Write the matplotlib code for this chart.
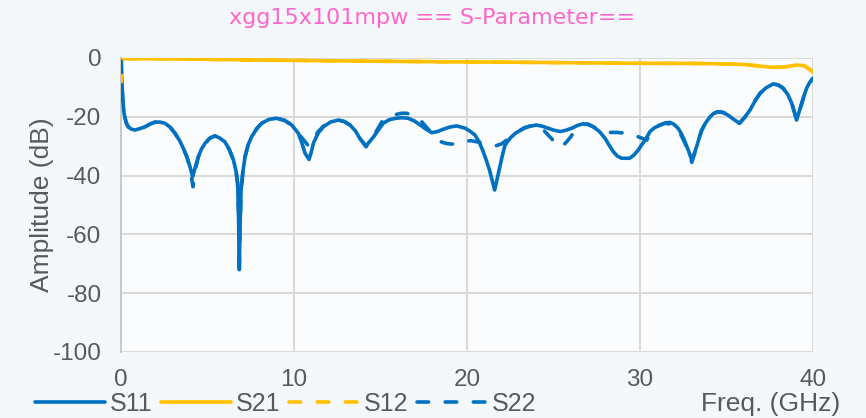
import matplotlib
matplotlib.use("Agg")
import matplotlib.pyplot as plt

# S11 input return loss (GHz, dB)
s11_f = [0.0, 0.05, 0.1, 0.18, 0.3, 0.42, 0.6, 0.81, 1.1, 1.39, 1.7, 1.97, 2.25, 2.54, 2.85,
         3.12, 3.4, 3.6, 3.8, 3.99, 4.14, 4.3, 4.47, 4.65, 4.86, 5.15, 5.43, 5.7, 6.0, 6.25,
         6.5, 6.65, 6.74, 6.79, 6.84, 6.89, 6.94, 7.05, 7.17, 7.35, 7.55, 7.85, 8.13, 8.55,
         9.0, 9.45, 9.87, 10.1, 10.25, 10.45, 10.64, 10.87, 11.0, 11.12, 11.4, 11.7, 12.1,
         12.56, 12.9, 13.24, 13.55, 13.8, 14.16, 14.35, 14.6, 14.9, 15.16, 15.5, 15.9, 16.25,
         16.6, 16.95, 17.3, 17.65, 17.96, 18.3, 18.6, 19.0, 19.4, 19.9, 20.2, 20.46, 20.7,
         20.9, 21.1, 21.3, 21.45, 21.6, 21.75, 21.9, 22.05, 22.2, 22.5, 22.8, 23.35, 24.0,
         24.35, 24.7, 25.05, 25.4, 25.7, 26.05, 26.4, 26.7, 27.0, 27.3, 27.65, 27.98, 28.2,
         28.46, 28.7, 28.94, 29.4, 29.65, 29.9, 30.1, 30.3, 30.58, 30.85, 31.16, 31.45, 31.73,
         31.95, 32.2, 32.4, 32.6, 32.8, 32.99, 33.13, 33.27, 33.42, 33.57, 33.8, 34.05, 34.25,
         34.5, 34.8, 35.08, 35.4, 35.75, 36.05, 36.36, 36.65, 36.94, 37.3, 37.7, 38.0, 38.28,
         38.55, 38.77, 38.92, 39.05, 39.2, 39.35, 39.5, 39.63, 39.8, 40.0]
s11_db = [-1, -8, -14, -19, -22, -23.4, -24.2, -24.5, -24, -23.4, -22.4, -21.8, -21.8, -22.2, -23.6,
          -25.6, -28.2, -30.7, -33.5, -37, -40.4, -37, -33.6, -31, -29, -27.2, -26.5, -27.2, -28.5, -31,
          -34.7, -38.5, -42.6, -52, -72, -55, -44.9, -38.5, -33.6, -29.5, -26.8, -24, -22.2, -20.9,
          -20.5, -21.2, -22.8, -24.5, -25.6, -28.8, -32.4, -34.5, -32, -29, -25.5, -23.4, -21.8,
          -21.1, -21.6, -22.8, -24.8, -27.3, -29.9, -28.6, -26.8, -24.3, -22.2, -21, -20.5, -20.3,
          -20.5, -21.4, -22.8, -24.3, -25.4, -25, -24.3, -23.5, -23.1, -23.9, -25, -26.2, -28.5,
          -31.3, -34.5, -38.1, -41.5, -44.9, -41, -37, -33, -29.6, -27.2, -25.6, -23.6, -22.8,
          -23.2, -23.9, -24.6, -25, -24.6, -23.9, -22.9, -22.4, -22.6, -23.4, -25, -27.3, -29.5,
          -31.9, -33.4, -34.1, -34.1, -33, -31.3, -29.5, -27.9, -25, -23.7, -22.8, -22.1, -21.9,
          -22.5, -23.9, -25.8, -28.5, -31.5, -34.7, -32.6, -30.2, -27.2, -24.5, -22, -20, -18.9,
          -18.3, -18.5, -19.4, -20.8, -22.2, -20.2, -17.7, -14.6, -12, -10.1, -8.8, -9.2, -10.3,
          -12.5, -15.4, -18.3, -21.1, -18.3, -15.4, -12.5, -10.3, -8.4, -6.9]

# S22 output return loss (GHz, dB)
s22_f = [0.0, 0.05, 0.1, 0.18, 0.3, 0.42, 0.6, 0.81, 1.1, 1.39, 1.7, 1.97, 2.25, 2.54, 2.85,
         3.12, 3.4, 3.6, 3.8, 3.99, 4.16, 4.32, 4.47, 4.65, 4.86, 5.15, 5.43, 5.7, 6.0, 6.25,
         6.5, 6.65, 6.74, 6.79, 6.84, 6.89, 6.94, 7.05, 7.17, 7.35, 7.55, 7.85, 8.13, 8.55,
         9.0, 9.45, 9.87, 10.1, 10.3, 10.6, 10.85, 11.1, 11.4, 11.7, 12.1, 12.56, 12.9,
         13.24, 13.55, 13.8, 14.16, 14.35, 14.6, 14.9, 15.1, 15.5, 15.9, 16.2, 16.5, 16.8,
         17.1, 17.4, 17.8, 18.1, 18.4, 18.75, 19.1, 19.45, 19.8, 20.2, 20.65, 21.1, 21.4,
         21.7, 22.0, 22.3, 22.7, 23.2, 23.6, 24.0, 24.25, 24.5, 24.9, 25.3, 25.55, 25.76,
         26.0, 26.2, 26.7, 27.0, 27.3, 27.65, 27.98, 28.3, 28.65, 29.2, 29.6, 29.9, 30.15,
         30.4, 30.58, 30.85, 31.16, 31.45, 31.73, 31.95, 32.2, 32.4, 32.6, 32.8, 32.99, 33.13,
         33.27, 33.42, 33.57, 33.8, 34.05, 34.25, 34.5, 34.8, 35.08, 35.4, 35.75, 36.05, 36.36,
         36.65, 36.94, 37.3, 37.7, 38.0, 38.28, 38.55, 38.77, 38.92, 39.05, 39.2, 39.35, 39.5,
         39.63, 39.8, 40.0]
s22_db = [-1, -8, -14, -19, -22, -23.4, -24.2, -24.5, -24, -23.4, -22.4, -21.8, -21.8, -22.2, -23.6,
          -25.6, -28.2, -30.7, -33.5, -37.5, -43.8, -37.5, -33.6, -31, -29, -27.2, -26.5, -27.2, -28.5, -31,
          -34.7, -38.5, -42.6, -52, -70, -55, -44.9, -38.5, -33.6, -29.5, -26.8, -24, -22.2, -20.9,
          -20.5, -21.2, -22.8, -24.3, -26, -28.2, -30, -28, -25, -23.2, -21.8, -21.1, -21.6,
          -22.8, -24.8, -27.3, -30.2, -28.6, -26.5, -23.5, -21.5, -20, -19.2, -18.8, -18.8, -19.2,
          -20.2, -21.8, -24.5, -26.8, -28.3, -29, -29.3, -29, -28.5, -28.1, -28.6, -29.4, -29.7,
          -29.8, -29.2, -27.9, -26, -24.2, -23.2, -22.8, -23.2, -25, -27.5, -30.2, -29.8, -28.5,
          -26.8, -25, -22.6, -22.5, -23.4, -24.5, -25.4, -25.3, -25.3, -25.6, -26.2, -26.8, -27.4,
          -27.9, -25, -23.7, -22.8, -22.2, -22.5, -23.2, -24.8, -26.5, -29, -32, -35.5, -33,
          -30.2, -27.2, -24.5, -22, -20, -18.9, -18.3, -18.5, -19.4, -20.8, -22.2, -20.2, -17.7,
          -14.6, -12, -10.1, -8.8, -9.2, -10.3, -12.5, -15.4, -18.3, -21.1, -18.3, -15.4, -12.5,
          -10.3, -8.4, -6.9]

# Forward / reverse transmission (GHz, dB)
s21_f = [0.0, 0.08, 2.0, 5.0, 8.0, 10.0, 12.0, 15.0, 18.0, 20.0, 22.0, 25.0, 28.0, 30.0,
         33.0, 35.0, 36.0, 37.0, 37.7, 38.3, 39.05, 39.5, 40.0]
s21_db = [-8, -0.2, -0.25, -0.45, -0.7, -0.8, -0.95, -1.1, -1.25, -1.35, -1.4, -1.55, -1.7, -1.8,
          -1.85, -2.0, -2.2, -2.8, -3.2, -3.1, -2.4, -2.6, -4.7]
s12_f = [0.0, 0.08, 2.0, 5.0, 8.0, 10.0, 12.0, 15.0, 18.0, 20.0, 22.0, 25.0, 28.0, 30.0,
         33.0, 35.0, 36.0, 37.0, 37.7, 38.3, 39.05, 39.5, 40.0]
s12_db = [-8, -0.2, -0.25, -0.45, -0.7, -0.8, -0.95, -1.1, -1.25, -1.35, -1.4, -1.55, -1.7, -1.8,
          -1.85, -2.0, -2.2, -2.8, -3.2, -3.1, -2.4, -2.6, -4.7]

x_ticks = [0, 10, 20, 30, 40]
y_ticks = [0, -20, -40, -60, -80, -100]

BLUE = "#0070c0"
YELLOW = "#ffc000"
TEXT = "#595959"

plt.rcParams["font.family"] = ["Liberation Sans", "DejaVu Sans"]
plt.rcParams["axes.unicode_minus"] = False

W, H = 866, 418
fig = plt.figure(figsize=(W / 100, H / 100), dpi=100, facecolor="#f5f8fb")
ax = fig.add_axes([121 / W, 1 - 352 / H, (813 - 121) / W, (352 - 58) / H])
ax.set_facecolor("#fbfcfd")

lw = 2.6
dash = (0, (3.2, 4.6))
ax.plot(s11_f, s11_db, color=BLUE, lw=lw, label="S11", solid_capstyle="round",
        solid_joinstyle="round", zorder=3)
ax.plot(s21_f, s21_db, color=YELLOW, lw=lw, label="S21", solid_capstyle="round",
        solid_joinstyle="round", zorder=3)
ax.plot(s12_f, s12_db, color=YELLOW, lw=lw, ls=dash, label="S12",
        dash_capstyle="round", zorder=3)
ax.plot(s22_f, s22_db, color=BLUE, lw=lw, ls=dash, label="S22",
        dash_capstyle="round", zorder=3)

ax.set_xlim(0, 40)
ax.set_ylim(-100, 0)
ax.set_xticks(x_ticks)
ax.set_yticks(y_ticks)
ax.grid(True, color="#d9d9d9", lw=1.4)
ax.set_axisbelow(True)
for side in ("top", "right", "bottom"):
    ax.spines[side].set_visible(False)
ax.spines["left"].set_color("#c8c8c8")
ax.spines["left"].set_linewidth(1.4)
ax.tick_params(length=0, labelsize=17.5, labelcolor=TEXT)
ax.tick_params(axis="x", pad=12)
ax.tick_params(axis="y", pad=14)

ax.set_ylabel("Amplitude (dB)", fontsize=19, color=TEXT)
ax.yaxis.set_label_coords(-0.097, 0.5)

fig.text(432 / W, 1 - 18 / H, "xgg15x101mpw == S-Parameter==", ha="center", va="center",
         fontsize=16, color="#ff66cc", family="DejaVu Sans")
fig.text(840 / W, 1 - 404 / H, "Freq. (GHz)", ha="right", va="center", fontsize=19, color=TEXT)

fig.legend(loc="center left", bbox_to_anchor=(35 / W, 1 - 404 / H), ncol=4, frameon=False,
           fontsize=18, handlelength=2.8, handletextpad=0.2, columnspacing=0.34,
           borderpad=0, borderaxespad=0, labelcolor=TEXT)

fig.savefig("out.png", dpi=100, facecolor=fig.get_facecolor())
